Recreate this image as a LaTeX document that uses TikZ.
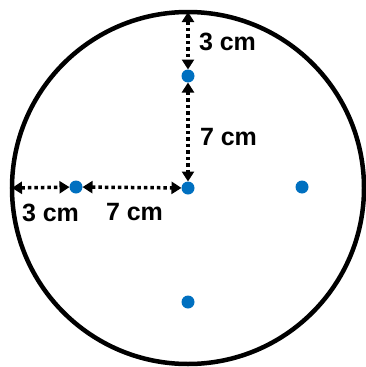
\documentclass[tikz,border=0pt]{standalone}
\usepackage{fontspec}
\setmainfont{Liberation Sans}
\usepackage{xcolor}
\usetikzlibrary{arrows.meta}
\definecolor{dotblue}{RGB}{0,112,192}

\begin{document}
\begin{tikzpicture}[x=1pt, y=-1pt,
    spot/.style={circle, fill=dotblue, minimum size=13pt, inner sep=0pt, outer sep=0pt},
    measure/.style={line width=3.5pt, dash pattern=on 3.5pt off 3pt, {Triangle[width=12pt,length=10pt]}-{Triangle[width=12pt,length=10pt]}},
    lbl/.style={inner sep=0pt, font=\fontsize{25}{30}\selectfont\bfseries}]
    \useasboundingbox (0,0) rectangle (365,367);

    \node (rim) [circle, draw, line width=4.5pt, minimum size=352pt, inner sep=0pt, outer sep=0pt] at (188,188) {};

    \node (mid) [spot] at (188,188) {};
    \node (top) [spot] at (188,76) {};
    \node (left) [spot] at (76,187) {};
    \node (right) [spot] at (302,187) {};
    \node (bottom) [spot] at (188,302) {};

    \draw[measure] (rim.north) -- (top);
    \draw[measure] (top) -- (mid);
    \draw[measure] (rim.west) -- (left);
    \draw[measure] (left) -- (mid);

    \node (topgap) [lbl] at (227.5,41.5) {3 cm};
    \node (midgap) [lbl] at (228.5,137) {7 cm};
    \node (leftgap) [lbl] at (50.5,212.5) {3 cm};
    \node (innergap) [lbl] at (134.5,212.5) {7 cm};
  \end{tikzpicture}
\end{document}
